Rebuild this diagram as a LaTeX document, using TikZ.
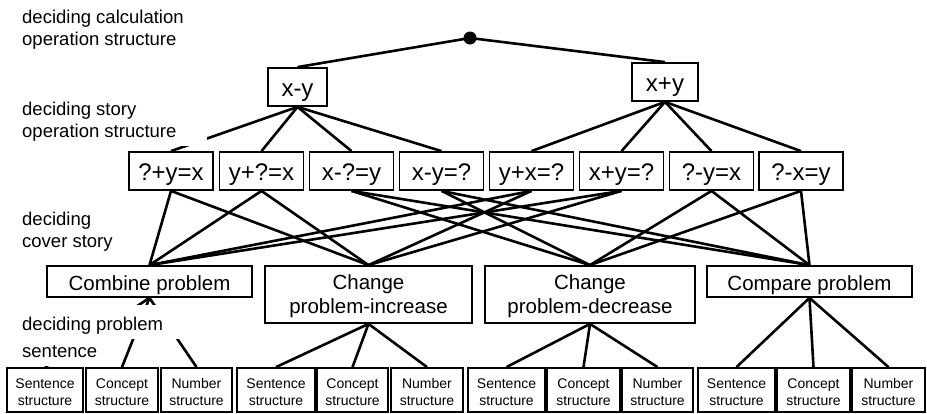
\documentclass[tikz,border=0pt]{standalone}
\usepackage{fontspec}
\setmainfont{Liberation Sans}
\begin{document}
\begin{tikzpicture}[x=1pt,y=-1pt,
  box/.style={draw, line width=1.8pt, inner sep=0pt, align=center, fill=white},
  plainbox/.style={draw, line width=1.8pt, inner sep=0pt, fill=white},
  onebox/.style={plainbox, text height=21pt, text depth=3pt, font=\fontsize{24}{28}\selectfont},
  opbox/.style={onebox, minimum height=38pt},
  storybox/.style={onebox, minimum width=84pt, minimum height=38pt},
  probone/.style={plainbox, text height=21pt, text depth=4pt, font=\fontsize{20.5}{24}\selectfont},
  probbox/.style={box, font=\fontsize{20.5}{24}\selectfont},
  leafbox/.style={box, minimum height=44pt, font=\fontsize{14}{17}\selectfont},
  conn/.style={line width=2.6pt},
  lbl/.style={anchor=base west, inner sep=0pt, font=\fontsize{18.5}{22}\selectfont}]
\useasboundingbox (0,0) rectangle (927,413);

% top dot
\coordinate (root) at (470,38);

% operation level
\node[opbox, minimum width=59pt] (xmy) at (297.5,87) {x-y};
\node[opbox, minimum width=66pt] (xpy) at (665,82) {x+y};

% story level
\node[storybox] (s1) at (171,171) {?+y=x};
\node[storybox] (s2) at (261.5,171) {y+?=x};
\node[storybox] (s3) at (351.5,171) {x-?=y};
\node[storybox] (s4) at (441.5,171) {x-y=?};
\node[storybox] (s5) at (531.5,171) {y+x=?};
\node[storybox] (s6) at (621.5,171) {x+y=?};
\node[storybox] (s7) at (711.5,171) {?-y=x};
\node[storybox] (s8) at (801,171) {?-x=y};

% problem level
\node[probone, minimum width=205pt, minimum height=31pt] (comb) at (149.5,281.5) {Combine problem};
\node[probbox, minimum width=207pt, minimum height=57pt] (cinc) at (368.5,294.5) {\rule{0pt}{18pt}Change\\problem-increase};
\node[probbox, minimum width=210pt, minimum height=57pt] (cdec) at (590,294.5) {\rule{0pt}{18pt}Change\\problem-decrease};
\node[probone, minimum width=205pt, minimum height=31pt] (comp) at (809.5,281.5) {Compare problem};

% leaf level
\node[leafbox, minimum width=76pt] (a1) at (45,390) {\rule{0pt}{14pt}Sentence\\structure};
\node[leafbox, minimum width=72pt] (b1) at (122,390) {\rule{0pt}{14pt}Concept\\structure};
\node[leafbox, minimum width=71pt] (c1) at (196.5,390) {\rule{0pt}{14pt}Number\\structure};
\node[leafbox, minimum width=78pt] (a2) at (276,390) {\rule{0pt}{14pt}Sentence\\structure};
\node[leafbox, minimum width=71pt] (b2) at (352.5,390) {\rule{0pt}{14pt}Concept\\structure};
\node[leafbox, minimum width=72pt] (c2) at (427,390) {\rule{0pt}{14pt}Number\\structure};
\node[leafbox, minimum width=77pt] (a3) at (506.5,390) {\rule{0pt}{14pt}Sentence\\structure};
\node[leafbox, minimum width=73pt] (b3) at (583.5,390) {\rule{0pt}{14pt}Concept\\structure};
\node[leafbox, minimum width=71pt] (c3) at (657.5,390) {\rule{0pt}{14pt}Number\\structure};
\node[leafbox, minimum width=77pt] (a4) at (736.5,390) {\rule{0pt}{14pt}Sentence\\structure};
\node[leafbox, minimum width=73pt] (b4) at (813.5,390) {\rule{0pt}{14pt}Concept\\structure};
\node[leafbox, minimum width=73pt] (c4) at (888.5,390) {\rule{0pt}{14pt}Number\\structure};

% connectors
\draw[conn] (xmy.north) -- (root) -- (xpy.north);
\foreach \s in {s1,s2,s3,s4} \draw[conn] (xmy.south) -- (\s.north);
\foreach \s in {s5,s6,s7,s8} \draw[conn] (xpy.south) -- (\s.north);
\foreach \s in {s1,s2,s5,s6} {
  \draw[conn] (\s.south) -- (comb.north);
  \draw[conn] (\s.south) -- (cinc.north);
}
\foreach \s in {s3,s4,s7,s8} {
  \draw[conn] (\s.south) -- (cdec.north);
  \draw[conn] (\s.south) -- (comp.north);
}
\foreach \p/\a/\b/\c in {comb/a1/b1/c1, cinc/a2/b2/c2, cdec/a3/b3/c3, comp/a4/b4/c4} {
  \draw[conn] (\p.south) -- (\a.north);
  \draw[conn] (\p.south) -- (\b.north);
  \draw[conn] (\p.south) -- (\c.north);
}
\fill[black] (root) circle (6.5pt);

% label backgrounds
\fill[white] (15,95) rectangle (207,146);
\fill[white] (15,305) rectangle (186,339);
\fill[white] (15,339) rectangle (100,366);

% labels
\node[lbl] (l1a) at (22,23) {deciding calculation};
\node[lbl] (l1b) at (22,45) {operation structure};
\node[lbl] (l2a) at (22,115) {deciding story};
\node[lbl] (l2b) at (22,137) {operation structure};
\node[lbl] (l3a) at (22,225) {deciding};
\node[lbl] (l3b) at (22,247) {cover story};
\node[lbl] (l4a) at (22,330) {deciding problem};
\node[lbl] (l4b) at (22,357) {sentence};
\end{tikzpicture}
\end{document}
